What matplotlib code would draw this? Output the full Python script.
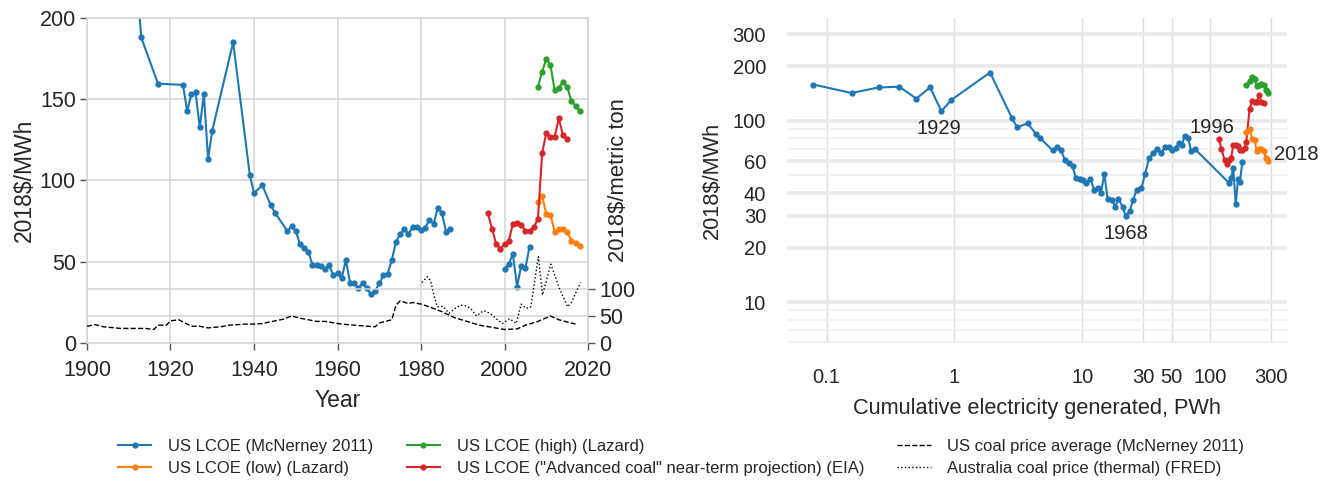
import numpy as np
import matplotlib
matplotlib.use("Agg")
import matplotlib.pyplot as plt
from matplotlib.ticker import LogLocator, NullFormatter, NullLocator, FixedLocator, FixedFormatter

plt.rcParams['font.family'] = ['Liberation Sans', 'DejaVu Sans']

# ---- US LCOE, McNerney 2011 (2018$/MWh) ----
mcn_years = [1912, 1913, 1917, 1923, 1924, 1925, 1926, 1927, 1928, 1929, 1930, 1935,
             1939, 1940, 1942, 1944, 1945, 1948, 1949, 1950, 1951, 1952, 1953, 1954,
             1955, 1956, 1957, 1958, 1959, 1960, 1961, 1962, 1963, 1964, 1965, 1966,
             1967, 1968, 1969, 1970, 1971, 1972, 1973, 1974, 1975, 1976, 1977, 1978,
             1979, 1980, 1981, 1982, 1983, 1984, 1985, 1986, 1987]
mcn_lcoe = [220, 188, 159.6, 158.8, 142.6, 153, 154.5, 132.7, 153.2, 113.2, 130.7, 185,
            103.3, 92.2, 97, 84.9, 80.2, 68.9, 71.8, 68.9, 60.9, 58.5, 56.2, 48.2,
            48, 47.4, 45.7, 47.8, 41.8, 42.9, 39.8, 51.1, 37.1, 36.7, 33.6, 37.1,
            33.6, 29.9, 32, 36.7, 41.6, 42.7, 50.9, 62.3, 66.9, 70, 66.9, 71.6,
            71.6, 69.3, 71, 75.9, 73.2, 83.1, 80, 68.5, 70.2]
mcn2_years = [2000, 2001, 2002, 2003, 2004, 2005, 2006]
mcn2_lcoe = [45.7, 48.6, 54.8, 34.7, 47.6, 46.2, 59.3]

# ---- EIA "Advanced coal" near-term projection ----
eia_years = list(range(1996, 2016))
eia_lcoe = [79.8, 70.4, 60.9, 58.1, 60.9, 62.6, 73.4, 74, 72.8, 69.1, 69.1, 71.2,
            76.3, 116.7, 129.2, 127, 127, 138.2, 127.8, 125.3]

# ---- Lazard low / high ----
laz_years = list(range(2008, 2019))
laz_low = [86.6, 90.6, 79.4, 78.8, 68.5, 70.4, 70.4, 68.3, 62.8, 61.7, 59.9]
laz_high = [157.7, 167, 174.6, 170.9, 155.7, 157.1, 160.6, 157.7, 148.9, 146, 143]

# ---- Coal prices (2018$/metric ton) ----
us_coal_years = [1900, 1902, 1904, 1908, 1914, 1916, 1917, 1919, 1920, 1922, 1925, 1927,
                 1929, 1932, 1934, 1938, 1940, 1942, 1945, 1947, 1949, 1951, 1955, 1957,
                 1961, 1964, 1969, 1970, 1973, 1974, 1975, 1977, 1978, 1980, 1982, 1985,
                 1988, 1991, 1994, 1997, 2000, 2003, 2005, 2008, 2011, 2013, 2017]
us_coal_price = [31, 34, 30, 27, 27, 25, 33, 33, 41, 43, 31, 31,
                 28, 30, 33, 35, 35, 36, 41, 44, 50, 46, 40, 40,
                 35, 33, 30, 37, 43, 70, 78, 73, 75, 72, 67, 58,
                 47, 40, 33, 29, 25, 26, 33, 40, 50, 43, 35]

au_coal_years = [1980.2, 1981.5, 1982.3, 1983.2, 1983.9, 1985.3, 1986.7, 1988.3, 1989.5,
                 1990.6, 1991.9, 1993.3, 1995.0, 1996.5, 1998.0, 1999.5, 2001.2, 2002.8,
                 2004.0, 2005.2, 2006.3, 2008.1, 2009.1, 2011.1, 2013.2, 2015.1, 2016.0,
                 2018.2]
au_coal_price = [112, 123, 115, 85, 67, 68, 55, 65, 70,
                 69, 64, 50, 60, 55, 45, 36, 45, 36,
                 72, 64, 67, 160, 89, 146, 100, 67, 75,
                 112]

# ---- Cumulative US electricity generated (PWh) by year ----
cum_years = [1923, 1924, 1925, 1926, 1927, 1928, 1929, 1930, 1935, 1939, 1940, 1942,
             1944, 1945, 1948, 1949, 1950, 1951, 1952, 1953, 1954, 1955, 1956, 1957,
             1958, 1959, 1960, 1961, 1962, 1963, 1964, 1965, 1966, 1967, 1968, 1969,
             1970, 1971, 1972, 1973, 1974, 1975, 1976, 1977, 1978, 1979, 1980, 1981,
             1982, 1983, 1984, 1985, 1986, 1987, 1996, 1997, 1998, 1999, 2000, 2001,
             2002, 2003, 2004, 2005, 2006, 2007, 2008, 2009, 2010, 2011, 2012, 2013,
             2014, 2015, 2016, 2017, 2018]
cum_pwh = [0.079, 0.157, 0.255, 0.371, 0.504, 0.646, 0.791, 0.948, 1.90, 2.83, 3.10, 3.74,
           4.35, 4.70, 5.86, 6.34, 6.82, 7.33, 7.82, 8.40, 8.93, 9.64, 10.2, 10.8,
           11.6, 12.4, 13.2, 14.0, 14.9, 15.8, 17.1, 18.1, 19.2, 20.7, 21.9, 23.6,
           25.0, 26.7, 29.1, 31.0, 33.4, 35.9, 38.7, 41.7, 44.3, 47.8, 50.7, 54.0,
           57.3, 60.1, 63.4, 67.6, 71.1, 75.9, 117.5, 122.5, 130, 135, 140, 146.5,
           152, 159, 165.5, 171.5, 179, 186.5, 192, 204, 214, 223, 231.5, 241.5,
           252, 264, 272, 279, 286]

BLUE, ORANGE, GREEN, RED = '#1f77b4', '#ff7f0e', '#2ca02c', '#d62728'
GRID = '#d5d5d5'
TICK_FS = 14.5
LEFT_TICK_FS = 15.5
LEFT_LABEL_FS = 16.5
TWIN_LABEL_FS = 15.8
LABEL_FS = 15.7

cum = dict(zip(cum_years, cum_pwh))


def on_cum(years, values):
    pairs = [(cum[y], v) for y, v in zip(years, values) if y in cum]
    return [p[0] for p in pairs], [p[1] for p in pairs]


fig = plt.figure(figsize=(13.28, 4.82), dpi=100)
ax1 = fig.add_axes([0.0655, 0.2884, 0.3773, 0.6743])
ax2 = fig.add_axes([0.5926, 0.2884, 0.3765, 0.6743])

line_kw = dict(lw=1.5, marker='o', markersize=3.5)

# ---------------- Left panel: LCOE by year ----------------
h_mcn, = ax1.plot(mcn_years, mcn_lcoe, color=BLUE, label='US LCOE (McNerney 2011)', **line_kw)
ax1.plot(mcn2_years, mcn2_lcoe, color=BLUE, **line_kw)
h_low, = ax1.plot(laz_years, laz_low, color=ORANGE, label='US LCOE (low) (Lazard)', **line_kw)
h_high, = ax1.plot(laz_years, laz_high, color=GREEN, label='US LCOE (high) (Lazard)', **line_kw)
h_eia, = ax1.plot(eia_years, eia_lcoe, color=RED,
                  label='US LCOE ("Advanced coal" near-term projection) (EIA)', **line_kw)

ax1.set_xlim(1900, 2020)
ax1.set_ylim(0, 200)
ax1.set_xticks(range(1900, 2021, 20))
ax1.set_yticks(range(0, 201, 50))
ax1.grid(True, color=GRID, lw=1.1)
ax1.set_axisbelow(True)
for s in ax1.spines.values():
    s.set_color(GRID)
    s.set_linewidth(1.1)
ax1.tick_params(direction='out', length=5, width=1, color='#555555',
                labelsize=LEFT_TICK_FS, labelcolor='#262626', pad=3)
ax1.tick_params(axis='x', pad=7)
ax1.set_xlabel('Year', fontsize=LEFT_LABEL_FS, color='#262626', labelpad=6)
ax1.set_ylabel('2018$/MWh', fontsize=LEFT_LABEL_FS, color='#262626', labelpad=3)

# secondary scale for coal prices
ax1t = ax1.twinx()
h_us, = ax1t.plot(us_coal_years, us_coal_price, color='black', lw=1.0, ls='--',
                  label='US coal price average (McNerney 2011)')
h_au, = ax1t.plot(au_coal_years, au_coal_price, color='black', lw=1.0, ls=':',
                  label='Australia coal price (thermal) (FRED)')
ax1t.set_ylim(0, 602)
ax1t.set_yticks([0, 50, 100])
ax1t.grid(True, axis='y', color=GRID, lw=1.1)
for s in ax1t.spines.values():
    s.set_visible(False)
ax1t.tick_params(direction='out', length=5, width=1, color='#555555',
                 labelsize=LEFT_TICK_FS, labelcolor='#262626', pad=3)
ax1t.set_ylabel('2018$/metric ton', fontsize=TWIN_LABEL_FS, color='#262626')
ax1t.yaxis.set_label_coords(1.039, 0.5)

# ---------------- Right panel: LCOE vs cumulative generation ----------------
x_mcn, y_mcn = on_cum(mcn_years + mcn2_years, mcn_lcoe + mcn2_lcoe)
ax2.plot(x_mcn, y_mcn, color=BLUE, **line_kw)
x_eia, y_eia = on_cum(eia_years, eia_lcoe)
ax2.plot(x_eia, y_eia, color=RED, **line_kw)
x_low, y_low = on_cum(laz_years, laz_low)
ax2.plot(x_low, y_low, color=ORANGE, **line_kw)
x_high, y_high = on_cum(laz_years, laz_high)
ax2.plot(x_high, y_high, color=GREEN, **line_kw)

ax2.set_xscale('log')
ax2.set_yscale('log')
ax2.set_xlim(0.049, 400)
ax2.set_ylim(5.95, 370)

xt = [0.1, 1, 10, 30, 50, 100, 300]
ax2.xaxis.set_major_locator(FixedLocator(xt))
ax2.xaxis.set_major_formatter(FixedFormatter(['0.1', '1', '10', '30', '50', '100', '300']))
ax2.xaxis.set_minor_locator(NullLocator())
yt = [10, 20, 30, 40, 60, 100, 200, 300]
ax2.yaxis.set_major_locator(FixedLocator(yt))
ax2.yaxis.set_major_formatter(FixedFormatter([str(v) for v in yt]))
ax2.yaxis.set_minor_locator(LogLocator(base=10, subs=np.arange(2, 10)))
ax2.yaxis.set_minor_formatter(NullFormatter())

ax2.grid(True, which='major', axis='y', color='#e9e9e9', lw=2.6)
ax2.grid(True, which='minor', axis='y', color='#f1f1f1', lw=1.3)
ax2.grid(True, which='major', axis='x', color='#dcdcdc', lw=1.0)
ax2.set_axisbelow(True)
for s in ax2.spines.values():
    s.set_visible(False)
ax2.tick_params(which='both', length=0, labelsize=TICK_FS, labelcolor='#262626')
ax2.tick_params(axis='y', pad=15)
ax2.tick_params(axis='x', pad=18)
ax2.set_xlabel('Cumulative electricity generated, PWh', fontsize=LABEL_FS,
               color='#262626', labelpad=8)
ax2.set_ylabel('2018$/MWh', fontsize=LABEL_FS, color='#262626', labelpad=7)

ann_kw = dict(textcoords='offset pixels', fontsize=TICK_FS, color='#262626')
ax2.annotate('1929', (cum[1929], mcn_lcoe[mcn_years.index(1929)]), xytext=(-2, -17),
             ha='center', va='center', **ann_kw)
ax2.annotate('1968', (cum[1968], mcn_lcoe[mcn_years.index(1968)]), xytext=(0, -18),
             ha='center', va='center', **ann_kw)
ax2.annotate('1996', (cum[1996], eia_lcoe[0]), xytext=(-7, 11),
             ha='center', va='center', **ann_kw)
ax2.annotate('2018', (cum[2018], laz_low[-1]), xytext=(6, 7),
             ha='left', va='center', **ann_kw)

# ---------------- Legend ----------------
handles = [h_mcn, h_low, h_high, h_eia, h_us, h_au]
fig.legend(handles, [h.get_label() for h in handles], loc='center',
           bbox_to_anchor=(0.513, 0.051), ncol=3, frameon=False, fontsize=12,
           handlelength=2.0, handletextpad=1.0, columnspacing=2.0, labelspacing=0.45,
           labelcolor='#262626')

fig.savefig('out.png', dpi=100, facecolor='white')
